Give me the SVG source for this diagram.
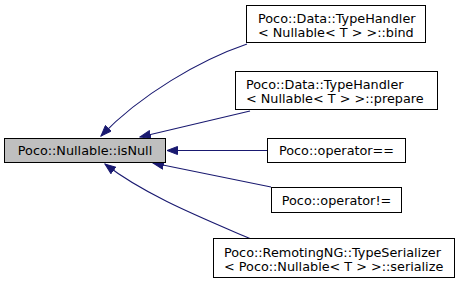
<svg xmlns="http://www.w3.org/2000/svg" width="465" height="285" viewBox="0 0 465 285">
  <style>
    .node rect { fill: #ffffff; stroke: #000000; stroke-width: 1; }
    .node.focus rect { fill: #bfbfbf; }
    .node text { font-family: "DejaVu Sans", "Liberation Sans", sans-serif; font-size: 12.8px; fill: #000000; }
    .edge { fill: none; stroke: #191970; stroke-width: 1.1; marker-end: url(#arrow); }
  </style>
  <defs>
    <marker id="arrow" markerUnits="userSpaceOnUse" markerWidth="12" markerHeight="9" viewBox="0 0 12 9" refX="11" refY="4.5" orient="auto">
      <path d="M0.5,0.5 L11,4.5 L0.5,8.5 Z" fill="#191970" stroke="#191970" stroke-width="1"/>
    </marker>
  </defs>

  <!-- callers pointing back to isNull -->
  <g id="connectors">
    <path class="edge" d="M247,44 C200,60 140,95 101,136"/>
    <path class="edge" d="M250,111 L140,137"/>
    <path class="edge" d="M267,150.5 L167,150.5"/>
    <path class="edge" d="M271,187 L153,163"/>
    <path class="edge" d="M251,239 C200,217 145,195 105,164"/>
  </g>

  <g id="node-isNull" class="node focus">
    <rect x="4.5" y="138.5" width="161" height="24"/>
    <text x="85" y="155" text-anchor="middle">Poco::Nullable::isNull</text>
  </g>

  <g id="node-bind" class="node">
    <rect x="246.5" y="5.5" width="179" height="37"/>
    <text x="258" y="22.5">Poco::Data::TypeHandler</text>
    <text x="258" y="36.5">&lt; Nullable&lt; T &gt; &gt;::bind</text>
  </g>

  <g id="node-prepare" class="node">
    <rect x="235.5" y="71.5" width="202" height="38"/>
    <text x="246" y="89">Poco::Data::TypeHandler</text>
    <text x="246" y="103">&lt; Nullable&lt; T &gt; &gt;::prepare</text>
  </g>

  <g id="node-operator-eq" class="node">
    <rect x="267.5" y="138.5" width="138" height="24"/>
    <text x="336.5" y="155" text-anchor="middle">Poco::operator==</text>
  </g>

  <g id="node-operator-neq" class="node">
    <rect x="271.5" y="187.5" width="130" height="25"/>
    <text x="336.5" y="204.5" text-anchor="middle">Poco::operator!=</text>
  </g>

  <g id="node-serialize" class="node">
    <rect x="213.5" y="238.5" width="241" height="39"/>
    <text x="224" y="256.5">Poco::RemotingNG::TypeSerializer</text>
    <text x="224" y="270.5">&lt; Poco::Nullable&lt; T &gt; &gt;::serialize</text>
  </g>
</svg>
